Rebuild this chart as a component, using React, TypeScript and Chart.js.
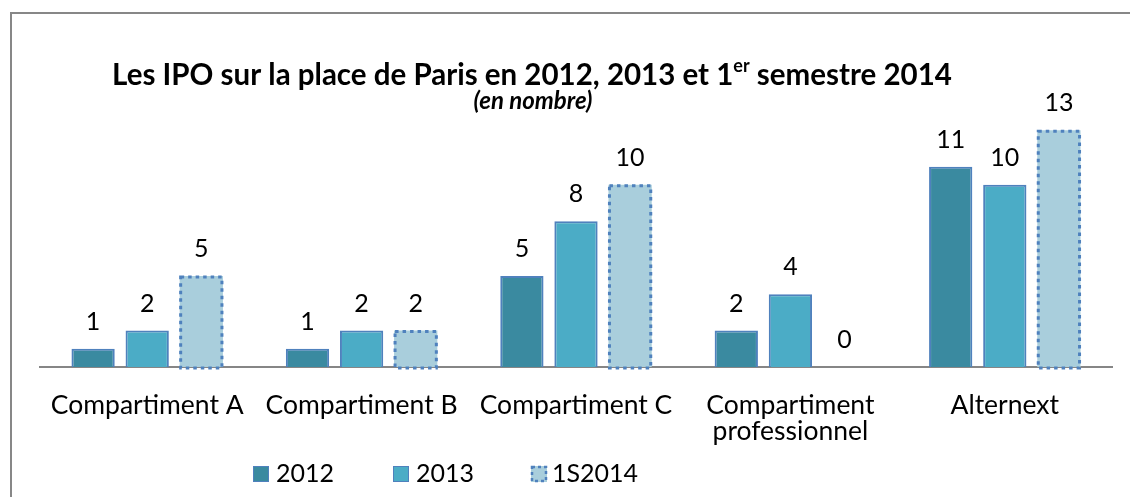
import React, { useEffect, useRef } from "react";
import { Chart, registerables } from "chart.js";

Chart.register(...registerables);

const categories: (string | string[])[] = [
  "Compartiment A",
  "Compartiment B",
  "Compartiment C",
  ["Compartiment", "professionnel"],
  "Alternext",
];
const seriesNames = ["2012", "2013", "1S2014"];
const values2012 = [1, 1, 5, 2, 11];
const values2013 = [2, 2, 8, 4, 10];
const values1S2014 = [5, 2, 10, 0, 13];

const titleMain = "Les IPO sur la place de Paris en 2012, 2013 et 1";
const titleSup = "er";
const titleEnd = " semestre 2014";
const subtitle = "(en nombre)";

const FONT = 'Lato, "Open Sans", sans-serif';
const COLORS = ["#3A8AA0", "#4BACC6", "#A9CEDC"];
const BORDER = "#4F81BD";

const overlayPlugin = {
  id: "overlay",
  afterDatasetsDraw(chart: any) {
    const ctx = chart.ctx;
    // dotted border of the 1S2014 bars
    const meta2 = chart.getDatasetMeta(2);
    meta2.data.forEach((bar: any, i: number) => {
      if (values1S2014[i] === 0) return;
      const p = bar.getProps(["x", "y", "base", "width"], true);
      ctx.save();
      ctx.strokeStyle = BORDER;
      ctx.lineWidth = 3;
      ctx.setLineDash([3.5, 4]);
      ctx.strokeRect(p.x - p.width / 2 + 1, p.y + 1, p.width - 2, p.base - p.y);
      ctx.restore();
    });
    // value labels
    ctx.save();
    ctx.fillStyle = "#000";
    ctx.font = `25px ${FONT}`;
    ctx.textAlign = "center";
    ctx.textBaseline = "middle";
    chart.data.datasets.forEach((ds: any, di: number) => {
      const meta = chart.getDatasetMeta(di);
      meta.data.forEach((bar: any, i: number) => {
        const p = bar.getProps(["x", "y"], true);
        ctx.fillText(String(ds.data[i]), p.x, p.y - 27);
      });
    });
    ctx.restore();
  },
  afterDraw(chart: any) {
    const ctx = chart.ctx;
    ctx.save();
    ctx.fillStyle = "#000";
    ctx.textBaseline = "middle";
    ctx.textAlign = "left";
    const big = `bold 29.5px ${FONT}`;
    const small = `bold 18px ${FONT}`;
    ctx.font = big;
    const w1 = ctx.measureText(titleMain).width;
    const w3 = ctx.measureText(titleEnd).width;
    ctx.font = small;
    const w2 = ctx.measureText(titleSup).width;
    const total = w1 + w2 + w3;
    let x = 532 - total / 2;
    const ty = 75;
    ctx.font = big;
    ctx.fillText(titleMain, x, ty);
    x += w1;
    ctx.font = small;
    ctx.fillText(titleSup, x, ty - 9);
    x += w2;
    ctx.font = big;
    ctx.fillText(titleEnd, x, ty);

    ctx.font = `italic bold 24px ${FONT}`;
    ctx.textAlign = "center";
    ctx.fillText(subtitle, 533, 101);

    // legend
    const boxX = [253, 393, 531];
    const textX = [276, 416, 552];
    ctx.font = `25px ${FONT}`;
    ctx.textAlign = "left";
    seriesNames.forEach((name, i) => {
      ctx.fillStyle = COLORS[i];
      ctx.fillRect(boxX[i], 466, 16, 16);
      if (i < 2) {
        ctx.strokeStyle = BORDER;
        ctx.lineWidth = 1;
        ctx.strokeRect(boxX[i] + 0.5, 466.5, 15, 15);
      } else {
        ctx.strokeStyle = BORDER;
        ctx.lineWidth = 2.5;
        ctx.setLineDash([3, 3]);
        ctx.strokeRect(boxX[i] + 1, 467, 14, 14);
        ctx.setLineDash([]);
      }
      ctx.fillStyle = "#000";
      ctx.fillText(name, textX[i], 474);
    });
    ctx.restore();
  },
};

export default function App() {
  const ref = useRef<HTMLCanvasElement | null>(null);
  useEffect(() => {
    if (!ref.current) return;
    const datasets = [values2012, values2013, values1S2014].map((vals, i) => ({
      label: seriesNames[i],
      data: vals,
      backgroundColor: COLORS[i],
      borderColor: BORDER,
      borderWidth: i < 2 ? 2 : 0,
      borderSkipped: "start" as const,
      categoryPercentage: 0.757,
      barPercentage: 0.8,
    }));
    const chart = new Chart(ref.current, {
      type: "bar",
      data: { labels: categories, datasets },
      options: {
        responsive: false,
        animation: false,
        devicePixelRatio: 1,
        layout: { padding: { left: 40, right: 18, top: 112, bottom: 0 } },
        plugins: {
          legend: { display: false },
          title: { display: false },
          tooltip: { enabled: false },
        },
        scales: {
          x: {
            z: 1,
            grid: { display: false, drawTicks: false },
            border: { display: true, color: "#868686", width: 2 },
            ticks: {
              color: "#000",
              font: { family: FONT, size: 26.5, lineHeight: 1.0 },
              padding: 25,
              maxRotation: 0,
              autoSkip: false,
            },
            afterFit: (scale: any) => {
              scale.height = 130;
            },
          },
          y: { display: false, min: 0, max: 14 },
        },
      },
      plugins: [overlayPlugin],
    });
    return () => chart.destroy();
  }, []);
  return (
    <div style={{ position: "absolute", left: 0, top: 0, width: 1130, height: 497, background: "#fff", overflow: "hidden" }}>
      <div
        style={{
          position: "absolute",
          left: 10,
          top: 12,
          width: 1200,
          height: 600,
          borderLeft: "2px solid #878787",
          borderTop: "2px solid #878787",
        }}
      />
      <canvas ref={ref} width={1130} height={497} style={{ position: "absolute", left: 0, top: 0, display: "block" }} />
    </div>
  );
}
